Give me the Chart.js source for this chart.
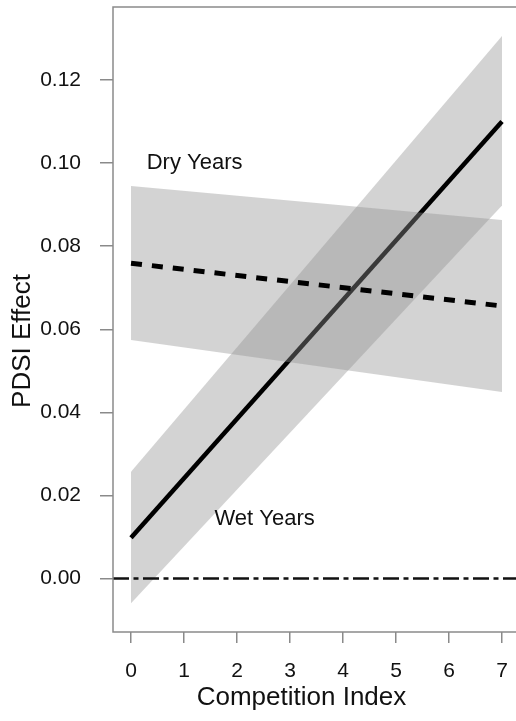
<!DOCTYPE html>
<html>
<head>
<meta charset="utf-8">
<script src="https://cdn.jsdelivr.net/npm/chart.js@4/dist/chart.umd.min.js"></script>
<style>
  html, body { margin: 0; padding: 0; background: #fff; overflow: hidden; }
  canvas { display: block; }
</style>
</head>
<body>
<canvas id="chart" width="516" height="721"></canvas>
<script>
// Competition index at the ends of the fitted lines
const competition = [0, 7];

// Wet years: fitted PDSI effect and its confidence band
const wetFit   = [0.0098, 0.1100];
const wetUpper = [0.0257, 0.1306];
const wetLower = [-0.0060, 0.0898];

// Dry years: fitted PDSI effect and its confidence band
const dryFit   = [0.0759, 0.0656];
const dryUpper = [0.0945, 0.0863];
const dryLower = [0.0574, 0.0449];

// Axis ticks and ranges
const xTicks = [0, 1, 2, 3, 4, 5, 6, 7];
const yTicks = [0.00, 0.02, 0.04, 0.06, 0.08, 0.10, 0.12];
const xRange = [-0.34, 7.264];
const yRange = [-0.0129, 0.1376];

// Text labels placed in data units
const labels = [
  { text: 'Dry Years', x: 1.2, y: 0.100 },
  { text: 'Wet Years', x: 2.52, y: 0.0143 }
];

const FONT = '"Liberation Sans", Arial, Helvetica, sans-serif';
const BAND = 'rgba(145,145,145,0.4)';
const FRAME = '#8a8a8a';

const pts = (xs, ys) => xs.map((x, i) => ({ x, y: ys[i] }));

const frameAndText = {
  id: 'frameAndText',
  afterDraw(chart) {
    const { ctx, chartArea: a, scales } = chart;
    ctx.save();
    // plot box (right side runs off the canvas)
    ctx.strokeStyle = FRAME;
    ctx.lineWidth = 1.5;
    ctx.strokeRect(a.left, a.top, a.right - a.left + 10, a.bottom - a.top);

    ctx.fillStyle = '#111';
    ctx.textBaseline = 'middle';
    // in-plot labels
    ctx.font = '22px ' + FONT;
    ctx.textAlign = 'center';
    labels.forEach(l => {
      ctx.fillText(l.text, scales.x.getPixelForValue(l.x), scales.y.getPixelForValue(l.y));
    });
    // axis titles
    ctx.font = '26px ' + FONT;
    ctx.fillText('Competition Index', a.left + 188.5, 698);
    ctx.translate(23, 341);
    ctx.rotate(-Math.PI / 2);
    ctx.fillText('PDSI Effect', 0, 0);
    ctx.restore();
  }
};

new Chart(document.getElementById('chart'), {
  type: 'line',
  data: {
    datasets: [
      { data: pts(competition, wetLower), borderWidth: 0, pointRadius: 0, fill: false, order: 10 },
      { data: pts(competition, wetUpper), borderWidth: 0, pointRadius: 0, fill: { target: 0 }, backgroundColor: BAND, order: 9 },
      { data: pts(competition, wetFit), borderColor: '#000', borderWidth: 4.5, borderCapStyle: 'butt', pointRadius: 0, fill: false, order: 8 },
      { data: pts(competition, dryLower), borderWidth: 0, pointRadius: 0, fill: false, order: 7 },
      { data: pts(competition, dryUpper), borderWidth: 0, pointRadius: 0, fill: { target: 3 }, backgroundColor: BAND, order: 6 },
      { data: pts(competition, dryFit), borderColor: '#000', borderWidth: 5, borderDash: [11, 10], borderCapStyle: 'butt', pointRadius: 0, fill: false, order: 5 },
      { data: pts(xRange, [0, 0]), borderColor: '#111', borderWidth: 2.5, borderDash: [16, 4.5, 5, 4.5], borderCapStyle: 'butt', pointRadius: 0, fill: false, order: 4 }
    ]
  },
  options: {
    responsive: false,
    animation: false,
    devicePixelRatio: 1,
    layout: { padding: { top: 7, right: 0, left: 0, bottom: 0 } },
    plugins: { legend: { display: false }, tooltip: { enabled: false } },
    elements: { line: { tension: 0 } },
    scales: {
      x: {
        type: 'linear',
        position: 'bottom',
        min: xRange[0],
        max: xRange[1],
        afterBuildTicks: s => { s.ticks = xTicks.map(v => ({ value: v })); },
        afterFit: s => { s.height = 89; s.paddingLeft = 0; s.paddingRight = 0; },
        border: { display: false },
        grid: { drawOnChartArea: false, drawTicks: true, tickLength: 11, color: FRAME, lineWidth: 1.5 },
        ticks: { color: '#111', font: { family: FONT, size: 21 }, padding: 16, maxRotation: 0, callback: v => String(v) }
      },
      y: {
        type: 'linear',
        position: 'left',
        min: yRange[0],
        max: yRange[1],
        afterBuildTicks: s => { s.ticks = yTicks.map(v => ({ value: v })); },
        afterFit: s => { s.width = 113; s.paddingTop = 0; s.paddingBottom = 0; },
        border: { display: false },
        grid: { drawOnChartArea: false, drawTicks: true, tickLength: 13, color: FRAME, lineWidth: 1.5 },
        ticks: { color: '#111', font: { family: FONT, size: 21 }, padding: 19, callback: v => v.toFixed(2) }
      }
    }
  },
  plugins: [frameAndText]
});
</script>
</body>
</html>
